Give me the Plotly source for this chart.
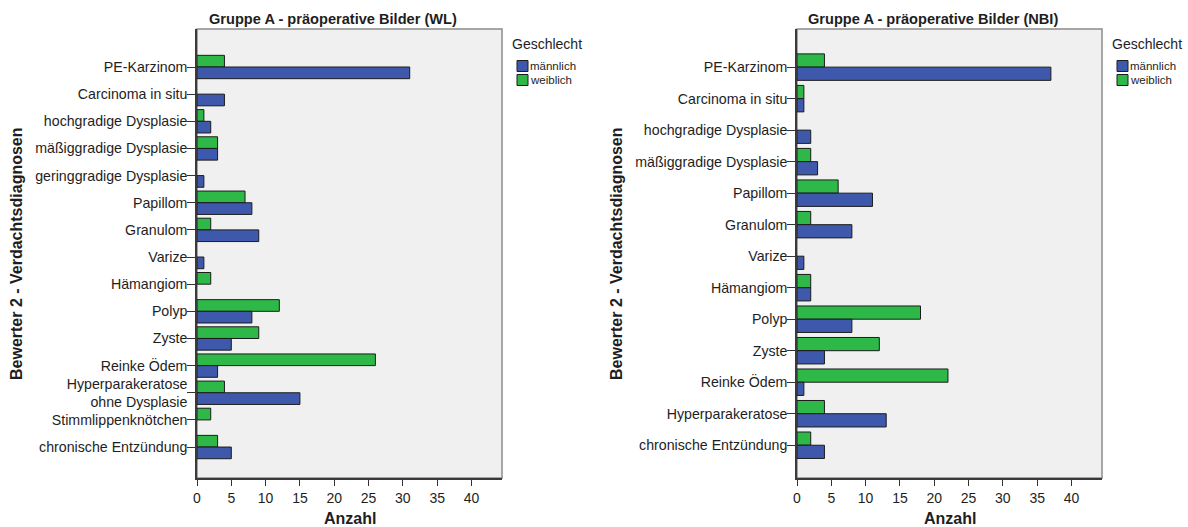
import plotly.graph_objects as go

# ---- data -------------------------------------------------------------
wl_categories = [
    "PE-Karzinom", "Carcinoma in situ", "hochgradige Dysplasie",
    "mäßiggradige Dysplasie", "geringgradige Dysplasie", "Papillom",
    "Granulom", "Varize", "Hämangiom", "Polyp", "Zyste", "Reinke Ödem",
    "Hyperparakeratose<br>ohne Dysplasie", "Stimmlippenknötchen",
    "chronische Entzündung",
]
wl_maennlich = [31, 4, 2, 3, 1, 8, 9, 1, 0, 8, 5, 3, 15, 0, 5]
wl_weiblich = [4, 0, 1, 3, 0, 7, 2, 0, 2, 12, 9, 26, 4, 2, 3]

nbi_categories = [
    "PE-Karzinom", "Carcinoma in situ", "hochgradige Dysplasie",
    "mäßiggradige Dysplasie", "Papillom", "Granulom", "Varize",
    "Hämangiom", "Polyp", "Zyste", "Reinke Ödem", "Hyperparakeratose",
    "chronische Entzündung",
]
nbi_maennlich = [37, 1, 2, 3, 11, 8, 1, 2, 8, 4, 1, 13, 4]
nbi_weiblich = [4, 1, 0, 2, 6, 2, 0, 2, 18, 12, 22, 4, 2]

x_ticks = [0, 5, 10, 15, 20, 25, 30, 35, 40]

titles = ["Gruppe A - präoperative Bilder (WL)", "Gruppe A - präoperative Bilder (NBI)"]
series_names = ["männlich", "weiblich"]
legend_title = "Geschlecht"
y_title = "Bewerter 2 - Verdachtsdiagnosen"
x_title = "Anzahl"

# ---- styling ----------------------------------------------------------
W, H = 1188, 527
BLUE = "#3E58AC"
GREEN = "#2EB848"
OUTLINE = "#1c1c1c"
FONT = "Liberation Sans, Arial, sans-serif"
TXT = "#1e1e1e"


def px(x):
    return x / W


def py(y):
    return 1 - y / H


def outline_widths(values):
    # no outline on empty bars, so they don't leave a sliver at zero
    return [1 if v > 0 else 0 for v in values]


fig = go.Figure()

panels = [
    # (categories, male, female, x-offset, y range, bar width, axis suffix)
    (wl_categories, wl_maennlich, wl_weiblich, 0, [15.14, -1.40], 0.43, ""),
    (nbi_categories, nbi_maennlich, nbi_weiblich, 600, [13.04, -1.21], 0.42, "2"),
]

plot_left, plot_right = 197, 502
plot_top, plot_bottom = 29, 478

shapes = []
annotations = []

for k, (cats, male, female, dx, yr, bw, sfx) in enumerate(panels):
    xa = "x" + sfx
    ya = "y" + sfx
    fig.add_trace(go.Bar(
        y=cats, x=female, orientation="h", name=series_names[1],
        marker=dict(color=GREEN, line=dict(color=OUTLINE, width=outline_widths(female))),
        width=bw, offset=-bw, xaxis=xa, yaxis=ya, showlegend=False,
    ))
    fig.add_trace(go.Bar(
        y=cats, x=male, orientation="h", name=series_names[0],
        marker=dict(color=BLUE, line=dict(color=OUTLINE, width=outline_widths(male))),
        width=bw, offset=0, xaxis=xa, yaxis=ya, showlegend=False,
    ))

    l, r = plot_left + dx, plot_right + dx
    xaxis = dict(
        domain=[px(l), px(r)], range=[0, 44.45], anchor=ya,
        tickmode="array", tickvals=x_ticks, ticks="outside", ticklen=6,
        tickcolor="#333333", tickwidth=1, showgrid=False, zeroline=False,
        showline=True, linecolor="#3a3a3a", linewidth=1.5,
        tickfont=dict(family=FONT, size=14, color=TXT), automargin=False,
    )
    yaxis = dict(
        domain=[py(plot_bottom), py(plot_top)], range=yr, anchor=xa,
        type="category", categoryorder="array", categoryarray=cats,
        ticks="outside", ticklen=8, tickcolor="#333333", tickwidth=1,
        ticklabelstandoff=-3,
        showgrid=False, zeroline=False, showline=True,
        linecolor="#3a3a3a", linewidth=1.5,
        tickfont=dict(family=FONT, size=14.2, color=TXT), automargin=False,
    )
    fig.update_layout(**{"xaxis" + sfx: xaxis, "yaxis" + sfx: yaxis})

    # plot frame
    shapes.append(dict(
        type="rect", xref="paper", yref="paper",
        x0=px(l), x1=px(r), y0=py(plot_bottom), y1=py(plot_top),
        line=dict(color="#8a8a8a", width=1.5), fillcolor="#F0F0F0",
        layer="below",
    ))

    # panel title
    annotations.append(dict(
        text=titles[k], xref="paper", yref="paper",
        x=px(332.5 + dx), y=py(19), xanchor="center", yanchor="middle",
        showarrow=False, font=dict(family=FONT, size=14.6, color=TXT, weight="bold"),
    ))
    # axis titles
    annotations.append(dict(
        text=y_title, xref="paper", yref="paper",
        x=px(17 + dx), y=py(254), xanchor="center", yanchor="middle",
        textangle=-90, showarrow=False,
        font=dict(family=FONT, size=16, color=TXT, weight="bold"),
    ))
    annotations.append(dict(
        text=x_title, xref="paper", yref="paper",
        x=px(350 + dx), y=py(518), xanchor="center", yanchor="middle",
        showarrow=False, font=dict(family=FONT, size=16, color=TXT, weight="bold"),
    ))

    # legend
    annotations.append(dict(
        text=legend_title, xref="paper", yref="paper",
        x=px(510 + dx), y=py(44), xanchor="left", yanchor="middle",
        showarrow=False, font=dict(family=FONT, size=14, color=TXT),
    ))
    for j, (name, col) in enumerate(zip(series_names, [BLUE, GREEN])):
        yc = 66 + 14 * j
        shapes.append(dict(
            type="rect", xref="paper", yref="paper",
            x0=px(517 + dx), x1=px(528 + dx), y0=py(yc + 5.5), y1=py(yc - 5.5),
            line=dict(color=OUTLINE, width=1), fillcolor=col,
        ))
        annotations.append(dict(
            text=name, xref="paper", yref="paper",
            x=px(528 + dx), y=py(yc), xanchor="left", yanchor="middle",
            showarrow=False, font=dict(family=FONT, size=11.5, color=TXT),
        ))

fig.update_layout(
    width=W, height=H,
    margin=dict(l=0, r=0, t=0, b=0),
    paper_bgcolor="white", plot_bgcolor="#F0F0F0",
    barmode="overlay",
    shapes=shapes, annotations=annotations,
    showlegend=False,
)

fig.write_html("out.html")
